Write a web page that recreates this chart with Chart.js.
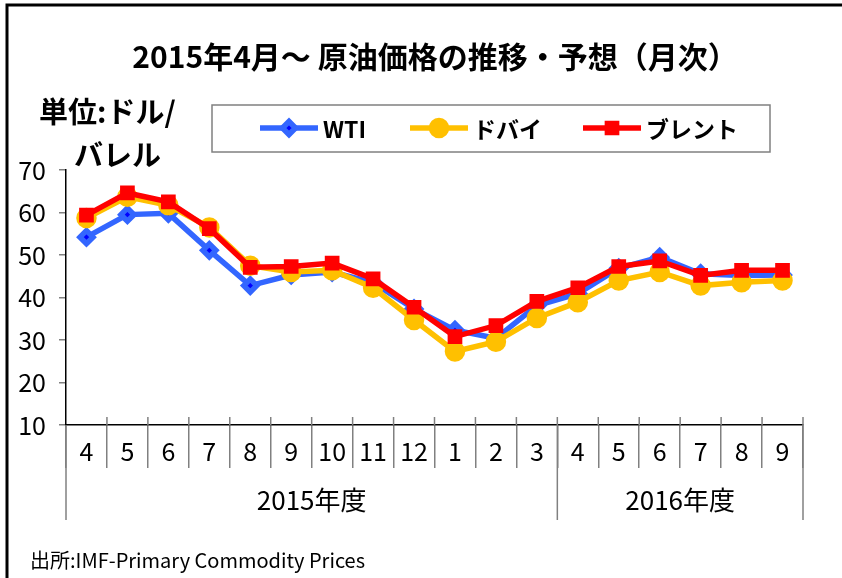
<!DOCTYPE html>
<html>
<head>
<meta charset="utf-8">
<script src="https://cdn.jsdelivr.net/npm/chart.js@4.4.1/dist/chart.umd.min.js"></script>
<style>
  html, body { margin: 0; padding: 0; background: #fff; }
  canvas { display: block; }
</style>
</head>
<body>
<canvas id="chart" width="842" height="578"></canvas>
<script>
const months = ["4", "5", "6", "7", "8", "9", "10", "11", "12", "1", "2", "3", "4", "5", "6", "7", "8", "9"];
const fiscalYears = ["2015年度", "2016年度"];
const monthsPerYear = [12, 6];
const yTicks = [10, 20, 30, 40, 50, 60, 70];

const wti = [54.2, 59.5, 59.8, 51.1, 42.8, 45.3, 46.0, 43.5, 37.3, 32.3, 30.4, 38.1, 40.9, 46.9, 49.5, 45.6, 45.2, 45.3];
const dubai = [58.7, 63.7, 61.7, 56.5, 47.5, 46.0, 46.4, 42.3, 34.7, 27.3, 29.6, 35.2, 38.9, 44.0, 46.0, 42.8, 43.6, 44.0];
const brent = [59.4, 64.6, 62.5, 56.2, 47.1, 47.3, 48.1, 44.4, 37.7, 30.8, 33.4, 39.1, 42.3, 47.3, 48.6, 45.2, 46.4, 46.4];

const titleText = "2015年4月～ 原油価格の推移・予想（月次）";
const unitLines = ["単位:ドル/", "バレル"];
const sourceText = "出所:IMF-Primary Commodity Prices";

const FONT = "'Noto Sans CJK JP', 'Noto Sans', sans-serif";

// frame, title, legend box, unit, fiscal-year row, source
const decorations = {
    id: "decorations",
    afterDraw(chart) {
        const ctx = chart.ctx;
        const area = chart.chartArea;
        const xs = chart.scales.x;
        ctx.save();

        // outer frame (cut off on right/bottom like the original)
        ctx.strokeStyle = "#000";
        ctx.lineWidth = 3;
        ctx.strokeRect(7, 5, 860, 600);

        ctx.fillStyle = "#000";
        ctx.textBaseline = "middle";

        ctx.font = "bold 30px " + FONT;
        ctx.textAlign = "center";
        ctx.fillText(titleText, 435, 57);

        ctx.textAlign = "left";
        ctx.font = "bold 29px " + FONT;
        ctx.fillText(unitLines[0], 39, 112);
        ctx.fillText(unitLines[1], 74, 155);

        // legend
        ctx.strokeStyle = "#808080";
        ctx.lineWidth = 1.5;
        ctx.strokeRect(212, 105, 558, 47);
        const itemX = [260, 410, 583];
        chart.data.datasets.forEach((ds, i) => {
            const x0 = itemX[i], y = 128;
            ctx.strokeStyle = ds.borderColor;
            ctx.lineWidth = ds.borderWidth;
            ctx.beginPath();
            ctx.moveTo(x0, y);
            ctx.lineTo(x0 + 58, y);
            ctx.stroke();
            ctx.fillStyle = ds.pointBackgroundColor;
            ctx.strokeStyle = ds.pointBorderColor;
            Chart.helpers.drawPoint(ctx, {
                pointStyle: ds.pointStyle,
                radius: ds.pointRadius,
                borderWidth: 1
            }, x0 + 29, y);
            ctx.fillStyle = "#000";
            ctx.font = "bold 23px " + FONT;
            ctx.fillText(ds.label, x0 + 63, y + 1);
        });

        // short divider stubs above the axis line
        const step = (area.right - area.left) / months.length;
        ctx.strokeStyle = "#808080";
        ctx.lineWidth = 1.5;
        for (let i = 1; i <= months.length; i++) {
            const x = area.left + i * step;
            ctx.beginPath();
            ctx.moveTo(x, area.bottom - 8);
            ctx.lineTo(x, area.bottom);
            ctx.stroke();
        }

        // fiscal year groups under the month row
        ctx.font = "26px " + FONT;
        ctx.textAlign = "center";
        let start = 0;
        const edges = [area.left];
        fiscalYears.forEach((label, i) => {
            const end = start + monthsPerYear[i];
            const xl = xs.getPixelForValue(start) - step / 2;
            const xr = xs.getPixelForValue(end - 1) + step / 2;
            edges.push(xr);
            ctx.fillText(label, (xl + xr) / 2, 500);
            start = end;
        });
        edges.forEach(x => {
            ctx.beginPath();
            ctx.moveTo(x, area.bottom);
            ctx.lineTo(x, 520);
            ctx.stroke();
        });

        ctx.textAlign = "left";
        ctx.font = "20px " + FONT;
        ctx.fillText(sourceText, 30, 560);
        ctx.restore();
    }
};

new Chart("chart", {
    type: "line",
    data: {
        labels: months,
        datasets: [{
            label: "WTI",
            data: wti,
            borderColor: "#3366FF",
            borderWidth: 5.5,
            pointStyle: "rectRot",
            pointRadius: 6.5,
            pointBackgroundColor: "#0000FF",
            pointBorderColor: "#3366FF",
            order: 3
        }, {
            label: "ドバイ",
            data: dubai,
            borderColor: "#FFC000",
            borderWidth: 5.5,
            pointStyle: "circle",
            pointRadius: 7.5,
            pointBackgroundColor: "#FFC000",
            pointBorderColor: "#FFC000",
            order: 2
        }, {
            label: "ブレント",
            data: brent,
            borderColor: "#FF0000",
            borderWidth: 5.5,
            pointStyle: "rect",
            pointRadius: 6.5,
            pointBackgroundColor: "#FF0000",
            pointBorderColor: "#FF0000",
            order: 1
        }]
    },
    options: {
        responsive: false,
        animation: false,
        layout: { padding: { top: 170, right: 39, left: 0, bottom: 0 } },
        elements: { line: { tension: 0 } },
        plugins: {
            legend: { display: false },
            title: { display: false },
            tooltip: { enabled: false }
        },
        scales: {
            x: {
                offset: true,
                afterFit(scale) { scale.height = 153; },
                border: { color: "#000", width: 1.5 },
                grid: { offset: true, drawOnChartArea: false, tickLength: 43, color: "#808080", lineWidth: 1.5 },
                ticks: { color: "#000", padding: -32, maxRotation: 0, autoSkip: false, font: { family: FONT, size: 25 } }
            },
            y: {
                min: 10,
                max: 70,
                afterFit(scale) { scale.width = 66; },
                afterBuildTicks(scale) { scale.ticks = yTicks.map(v => ({ value: v })); },
                border: { color: "#000", width: 1.5 },
                grid: { drawOnChartArea: false, tickLength: 7, color: "#808080", lineWidth: 1.5 },
                ticks: { color: "#000", padding: 13, font: { family: FONT, size: 25 } }
            }
        }
    },
    plugins: [decorations]
});
</script>
</body>
</html>
